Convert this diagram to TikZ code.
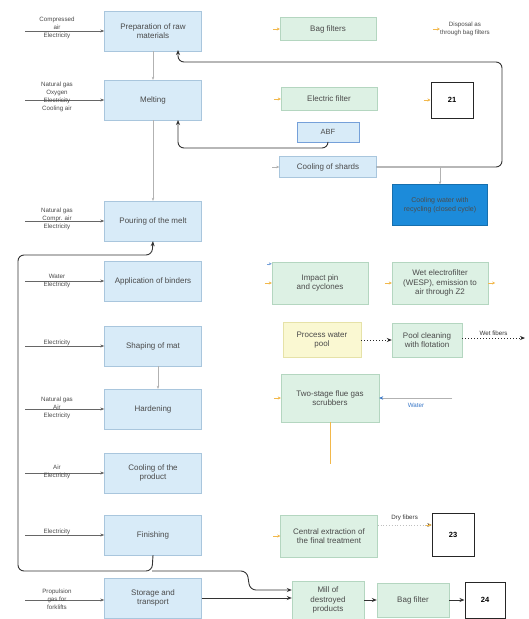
\documentclass[tikz,border=0pt]{standalone}
\usepackage{fontspec}
\setmainfont{Liberation Sans}
\usetikzlibrary{arrows.meta}
\definecolor{procfill}{HTML}{D8EBF8}
\definecolor{procdraw}{HTML}{A9C6DD}
\definecolor{greenfill}{HTML}{DDF1E4}
\definecolor{greendraw}{HTML}{B4D6C0}
\definecolor{yellowfill}{HTML}{FAF8D2}
\definecolor{yellowdraw}{HTML}{E6E2A8}
\definecolor{darkblue}{HTML}{1C8BDA}
\definecolor{txt}{HTML}{4A4A4A}
\definecolor{orangemark}{HTML}{F2B84B}
\definecolor{waterblue}{HTML}{3A78C8}
\tikzset{
  proc/.style={draw=procdraw, fill=procfill, minimum width=97, minimum height=40, align=center, font=\fontsize{8}{9.5}\selectfont, text=txt, inner sep=1pt},
  gbox/.style={draw=greendraw, fill=greenfill, align=center, font=\fontsize{8}{9.5}\selectfont, text=txt, inner sep=1pt},
  numbox/.style={draw=black!85, line width=1pt, fill=white, minimum width=42, minimum height=36, font=\fontsize{7.5}{8}\selectfont\bfseries},
  lbl/.style={align=center, font=\fontsize{6.2}{8}\selectfont, text=txt, inner sep=0pt},
  inarrow/.style={draw=gray!80!black, line width=0.5pt, -{Stealth[length=4pt,width=3pt]}},
  loop/.style={draw=black!80, line width=0.9pt, rounded corners=6, -{Stealth[length=5pt,width=4pt]}},
  thin/.style={draw=gray!60, line width=0.4pt, -{Stealth[length=3pt,width=2.5pt]}},
  stub/.style={draw=orangemark, line width=0.6pt, -{Stealth[length=3pt,width=3pt]}},
  dotarrow/.style={draw=black!85, line width=1pt, dotted, -{Stealth[length=5pt,width=4pt]}},
  plain/.style={draw=black!80, line width=0.8pt, -{Stealth[length=5pt,width=4pt]}}
}
\begin{document}
\begin{tikzpicture}[x=1pt,y=-1pt]
\useasboundingbox[fill=white] (0,0) rectangle (528,619);

% left process column
\node[proc] (prep) at (153,31) {Preparation of raw\\materials};
\node[proc] (melt) at (153,100) {Melting};
\node[proc] (pour) at (153,221) {Pouring of the melt};
\node[proc] (bind) at (153,281) {Application of binders};
\node[proc] (shape) at (153,346) {Shaping of mat};
\node[proc] (hard) at (153,409) {Hardening};
\node[proc] (cool) at (153,473) {Cooling of the\\product};
\node[proc] (fin) at (153,535) {Finishing};
\node[proc] (store) at (153,598) {Storage and\\transport};

% inputs
\foreach \n/\y in {prep/31,melt/100,pour/221,bind/281,shape/346,hard/409,cool/473,fin/535,store/600}{
  \coordinate (in-\n) at (25,\y);
  \draw[inarrow] (in-\n) -- (\n.west |- in-\n);
}
\node[lbl] (l1) at (57,28) {Compressed\\air\\Electricity};
\node[lbl] (l2) at (57,97) {Natural gas\\Oxygen\\Electricity\\Cooling air};
\node[lbl] (l3) at (57,219) {Natural gas\\Compr. air\\Electricity};
\node[lbl] (l4) at (57,281) {Water\\Electricity};
\node[lbl] (l5) at (57,343) {Electricity};
\node[lbl] (l6) at (57,408) {Natural gas\\Air\\Electricity};
\node[lbl] (l7) at (57,472) {Air\\Electricity};
\node[lbl] (l8) at (57,532) {Electricity};
\node[lbl] (l9) at (57,599) {Propulsion\\gas for\\forklifts};

% thin links in main column
\draw[thin] (prep.south) -- (melt.north);
\draw[thin] (melt.south) -- (pour.north);
\draw[thin] ([xshift=5]shape.south) -- ([xshift=5]hard.north);

% right side
\node[gbox, minimum width=96, minimum height=23] (bag) at (328,29) {Bag filters};
\node[lbl, font=\fontsize{6.2}{7.5}\selectfont] (disp) at (465,29) {Disposal as\\through bag filters};
\node[gbox, minimum width=96, minimum height=23] (efil) at (329,99) {Electric filter};
\node[draw=waterblue!70, fill=procfill, minimum width=62, minimum height=20, font=\fontsize{7.5}{8}\selectfont, text=txt] (abf) at (328,132) {ABF};
\node[numbox] (z21) at (452,100) {21};
\node[draw=procdraw, fill=procfill, minimum width=97, minimum height=21, font=\fontsize{8}{9}\selectfont, text=txt] (shards) at (328,167) {Cooling of shards};
\node[draw=darkblue!80!black, fill=darkblue, minimum width=95, minimum height=41, align=center, font=\fontsize{7}{8.5}\selectfont, text=black!70] (cw) at (440,205) {Cooling water with\\recycling (closed cycle)};
\node[gbox, minimum width=96, minimum height=42] (imp) at (320,283) {Impact pin\\and cyclones};
\node[gbox, minimum width=96, minimum height=42] (wesp) at (440,283) {Wet electrofilter\\(WESP), emission to\\air through Z2};
\node[draw=yellowdraw, fill=yellowfill, minimum width=78, minimum height=35, align=center, font=\fontsize{8}{9.5}\selectfont, text=txt] (pool) at (322,340) {Process water\\pool};
\node[gbox, minimum width=70, minimum height=34] (clean) at (427,340) {Pool cleaning\\with flotation};
\coordinate (wetend) at (525,338);
\node[gbox, minimum width=98, minimum height=48] (flue) at (330,398) {Two-stage flue gas\\scrubbers};
\coordinate (waterstart) at (452,398);
\node[font=\fontsize{6.2}{7}\selectfont, text=waterblue] (water) at (416,405) {Water};
\node[gbox, minimum width=97, minimum height=42] (cext) at (329,536) {Central extraction of\\the final treatment};
\node[numbox, minimum height=43] (z23) at (453,535) {23};
\node[gbox, minimum width=72, minimum height=38] (mill) at (328,600) {Mill of\\destroyed\\products};
\node[gbox, minimum width=72, minimum height=34] (bagf) at (413,600) {Bag filter};
\node[numbox, minimum width=40] (z24) at (485,600) {24};

% loops
\draw[loop] (shards.east) -- (502,167) -- (502,62) -- (178,62) -- (178,50);
\draw[loop] (abf.south) -- (328,148) -- (178,148) -- (178,120);
\draw[thin] (440,167) -- (cw.north);
\coordinate (junc) at (152,571);
\draw[loop] (fin.south) -- (junc) -- (18,571) -- (18,255) -- (152,255) -- (pour.south);
\draw[loop] (junc) -- (247,571) -- (250,590) -- (mill.west |- 0,590);
\draw[plain] (store.east |- 0,598) -- (mill.west |- 0,598);
\draw[plain] (mill) -- (bagf);
\draw[plain] (bagf) -- (z24);

% water / fibers
\draw[dotarrow] (pool) -- (clean);
\draw[dotarrow] (clean.east |- wetend) -- node[above, font=\fontsize{6.2}{7}\selectfont, text=black!80, inner sep=2pt] {Wet fibers} (wetend);
\draw[draw=gray!60, line width=0.5pt, -{Stealth[length=4pt,width=3.5pt,color=waterblue]}] (waterstart) -- (flue.east |- waterstart);
\draw[draw=gray!50, dotted, line width=0.8pt, -{Stealth[length=4pt,width=3.5pt,color=black!80]}] (cext.east |- 0,525) -- node[above=3pt, font=\fontsize{6.2}{7}\selectfont, text=black!80, inner sep=1pt] {Dry fibers} (z23.west |- 0,525);

% orange stubs
\draw[stub] ([xshift=-7]bag.west) -- (bag.west);
\draw[stub] ([xshift=-7]disp.west) -- (disp.west);
\draw[stub] ([xshift=-7]efil.west) -- (efil.west);
\draw[stub] ([xshift=-7]z21.west) -- (z21.west);
\draw[thin] ([xshift=-7]shards.west) -- (shards.west);
\draw[stub] ([xshift=-7]imp.west) -- (imp.west);
\draw[stub] ([xshift=-7]wesp.west) -- (wesp.west);
\draw[stub] (wesp.east) -- ([xshift=7]wesp.east);
\draw[draw=waterblue!70, line width=0.5pt, -{Stealth[length=3pt,width=3pt]}] ([xshift=-5,yshift=-2]imp.north west) -- ([yshift=-2]imp.north west);
\draw[stub] ([xshift=-7]flue.west) -- (flue.west);
\draw[draw=orangemark, line width=0.8pt] (flue.south) -- (330,464);
\draw[stub] ([xshift=-7]cext.west) -- (cext.west);
\draw[stub] ([xshift=-6,yshift=10]z23.west) -- ([yshift=10]z23.west);
\end{tikzpicture}
\end{document}
